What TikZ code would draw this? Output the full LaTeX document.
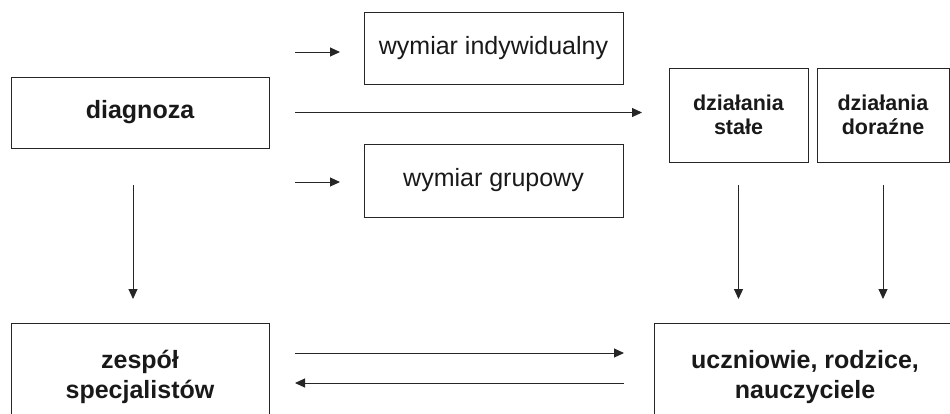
\documentclass[tikz,border=0pt]{standalone}
\usepackage{fontspec}
\setmainfont{Liberation Sans}
\usetikzlibrary{arrows.meta}

\begin{document}
\begin{tikzpicture}[x=1pt, y=-1pt,
    box/.style={draw=black!85, line width=0.9pt, text=black!90,
        align=center, inner sep=0pt, outer sep=0pt},
    big/.style={font=\fontsize{25}{28}\selectfont},
    small/.style={font=\bfseries\fontsize{21.5}{23.5}\selectfont},
    arr/.style={draw=black!85, line width=1pt,
        -{Triangle[length=10pt, width=9pt]}}
    ]
    \clip (0,0) rectangle (950,413);
    \node[box, big, font=\bfseries\fontsize{25}{28}\selectfont, minimum width=258pt, minimum height=71pt] (diag) at (140,112.5) {diagnoza};
    \node[box, big, minimum width=259pt, minimum height=72pt] (indyw) at (493.5,48) {wymiar indywidualny};
    \node[box, big, minimum width=259pt, minimum height=73pt] (grup) at (493.5,180.5) {wymiar grupowy};
    \node[box, small, minimum width=139pt, minimum height=94pt] (stale) at (738.5,115) {działania\\ stałe};
    \node[box, small, minimum width=132pt, minimum height=94pt] (doraz) at (883,115) {działania\\ doraźne};
    \node[box, big, font=\bfseries\fontsize{25}{30}\selectfont, minimum width=258pt, minimum height=108pt] (zesp) at (140,377) {zespół\\ specjalistów};
    \node[box, big, font=\bfseries\fontsize{25}{30}\selectfont, minimum width=302pt, minimum height=108pt] (ucz) at (805,377) {uczniowie, rodzice,\\ nauczyciele};

    % od diagnozy
    \draw[arr, shorten <=26pt, shorten >=24pt] ([yshift=-4pt]diag.east |- indyw) -- ([yshift=-4pt]indyw.west);
    \draw[arr, shorten <=26pt, shorten >=24pt] ([yshift=-1.5pt]diag.east |- grup) -- ([yshift=-1.5pt]grup.west);
    \draw[arr, shorten <=26pt, shorten >=27pt] (diag.east) -- (diag.east -| stale.west);
    \draw[arr, shorten <=37pt, shorten >=24pt] ([xshift=-7pt]diag.south) -- ([xshift=-7pt]diag.south |- zesp.north);

    % dzialania
    \draw[arr, shorten <=23pt, shorten >=24pt] (stale.south) -- (stale.south |- ucz.north);
    \draw[arr, shorten <=23pt, shorten >=24pt] (doraz.south) -- (doraz.south |- ucz.north);

    % wymiana
    \draw[arr, shorten <=26pt, shorten >=30pt] ([yshift=24pt]zesp.east) -- ([yshift=24pt]zesp.east -| ucz.west);
    \draw[arr, shorten <=30pt, shorten >=26pt] ([yshift=-6pt]zesp.east -| ucz.west) -- ([yshift=-6pt]zesp.east);
\end{tikzpicture}
\end{document}
